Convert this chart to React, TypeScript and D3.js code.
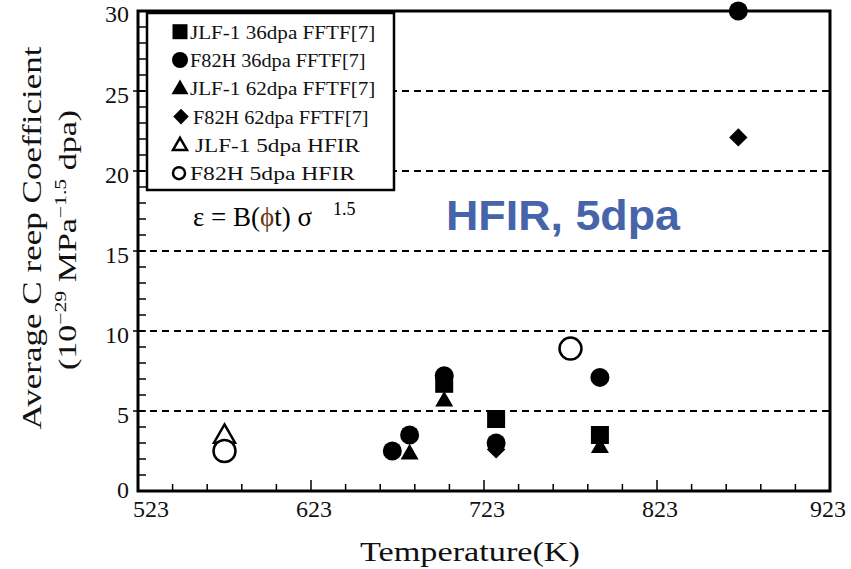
import React from "react";
import * as d3 from "d3";

// ---- data ----
const jlf36Temp = [700, 730, 790];
const jlf36Val = [6.7, 4.5, 3.5];
const f82h36Temp = [670, 680, 700, 730, 790, 870];
const f82h36Val = [2.5, 3.5, 7.2, 3.0, 7.1, 30];
const jlf62Temp = [680, 700, 790];
const jlf62Val = [2.3, 5.6, 2.7];
const f82h62Temp = [730, 870];
const f82h62Val = [2.6, 22.1];
const jlf5Temp = [573];
const jlf5Val = [3.4];
const f82h5Temp = [573, 773];
const f82h5Val = [2.5, 8.9];

const xTicks = [523, 623, 723, 823, 923];
const yTicks = [0, 5, 10, 15, 20, 25, 30];
const gridVals = [5, 10, 15, 20, 25];
const legendLabels = [
  "JLF-1 36dpa FFTF[7]",
  "F82H 36dpa FFTF[7]",
  "JLF-1 62dpa FFTF[7]",
  "F82H 62dpa FFTF[7]",
  "JLF-1 5dpa HFIR",
  "F82H  5dpa HFIR",
];

const W = 851;
const H = 569;
const L = 138, R = 830, T = 11, B = 491;
const serif = "'Liberation Serif', 'Times New Roman', serif";

export default function App() {
  const x = d3.scaleLinear().domain([523, 923]).range([L, R]);
  const y = d3.scaleLinear().domain([0, 30]).range([B, T]);

  const sq = (s: number) => d3.symbol().type(d3.symbolSquare).size(s * s)()!;
  const ci = (r: number) => d3.symbol().type(d3.symbolCircle).size(Math.PI * r * r)()!;
  const tri = (s: number) => d3.symbol().type(d3.symbolTriangle).size((s * s * Math.sqrt(3)) / 4)()!;

  const minorX = d3.range(543, 923, 20).filter((v) => (v - 523) % 100 !== 0);
  const minorY = d3.range(1, 30, 1);

  const pts = (t: number[], v: number[]) => t.map((d, i) => [x(d), y(v[i])]);

  const legY = (i: number) => 31.7 + i * 28.3;
  const legendWidth = (i: number) =>
    i < 4 ? legendLabels[i].length * 9.75 : legendLabels[i].length * 11;
  const legendTextX = [190, 190, 190, 193, 195, 190];

  return (
    <svg
      width={W}
      height={H}
      style={{ position: "absolute", left: 0, top: 0, background: "#fff" }}
    >
      <rect x={0} y={0} width={W} height={H} fill="#fff" />
      {/* grid lines */}
      {gridVals.map((v) => (
        <line
          key={"g" + v}
          x1={L}
          x2={R}
          y1={y(v)}
          y2={y(v)}
          stroke="#000"
          strokeWidth={2}
          strokeDasharray="7,5"
        />
      ))}
      {/* frame */}
      <rect x={L} y={T} width={R - L} height={B - T} fill="none" stroke="#000" strokeWidth={3} />
      {/* x ticks */}
      {minorX.map((v) => (
        <line key={"mx" + v} x1={x(v)} x2={x(v)} y1={B} y2={B - 7} stroke="#000" strokeWidth={1.5} />
      ))}
      {xTicks.slice(1, -1).map((v) => (
        <line key={"Mx" + v} x1={x(v)} x2={x(v)} y1={B} y2={B - 11} stroke="#000" strokeWidth={1.5} />
      ))}
      {/* y ticks */}
      {minorY.map((v) => (
        <line
          key={"my" + v}
          x1={v % 5 === 0 ? L - 5 : L}
          x2={L + 8}
          y1={y(v)}
          y2={y(v)}
          stroke="#000"
          strokeWidth={1.5}
        />
      ))}
      {/* x tick labels */}
      {xTicks.map((v, i) => (
        <text
          key={"xl" + v}
          x={x(v) + (i === 0 ? 13 : i === xTicks.length - 1 ? -2 : 3)}
          y={517}
          fontFamily={serif}
          fontSize={24}
          textAnchor="middle"
          textLength={36}
          lengthAdjust="spacingAndGlyphs"
          fill="#111"
        >
          {v}
        </text>
      ))}
      {/* y tick labels */}
      {yTicks.map((v) => (
        <text
          key={"yl" + v}
          x={129}
          y={y(v) + (v === 0 ? 7 : v === 30 ? 11 : 12)}
          fontFamily={serif}
          fontSize={24}
          textAnchor="end"
          fill="#111"
        >
          {v}
        </text>
      ))}
      {/* axis titles */}
      <text
        x={470}
        y={561}
        fontFamily={serif}
        fontSize={28}
        textAnchor="middle"
        textLength={220}
        lengthAdjust="spacingAndGlyphs"
        fill="#111"
      >
        Temperature(K)
      </text>
      <text
        transform="translate(41,238) rotate(-90)"
        fontFamily={serif}
        fontSize={28}
        textAnchor="middle"
        textLength={383}
        lengthAdjust="spacingAndGlyphs"
        fill="#111"
      >
        Average C reep Coefficient
      </text>
      <text
        transform="translate(76,240) rotate(-90)"
        fontFamily={serif}
        fontSize={25}
        textAnchor="middle"
        textLength={260}
        lengthAdjust="spacingAndGlyphs"
        fill="#111"
      >
        <tspan>(10</tspan>
        <tspan dy={-10} fontSize={16}>−29</tspan>
        <tspan dy={10}> MPa</tspan>
        <tspan dy={-10} fontSize={16}>−1.5</tspan>
        <tspan dy={10}> dpa)</tspan>
      </text>

      {/* legend box */}
      <rect x={147} y={13} width={247} height={177} fill="#fff" stroke="#000" strokeWidth={2.5} />
      {legendLabels.map((lab, i) => (
        <text
          key={"lt" + i}
          x={legendTextX[i]}
          y={legY(i) + 7}
          fontFamily={serif}
          fontSize={19}
          textLength={legendWidth(i)}
          lengthAdjust="spacingAndGlyphs"
          fill="#111"
        >
          {lab}
        </text>
      ))}
      <path d={sq(15)} transform={`translate(180,${legY(0)})`} fill="#000" />
      <path d={ci(8)} transform={`translate(180,${legY(1)})`} fill="#000" />
      <path d={tri(17)} transform={`translate(180,${legY(2) + 1})`} fill="#000" />
      <path d={sq(11)} transform={`translate(181,${legY(3)}) rotate(45)`} fill="#000" />
      <path d={tri(14)} transform={`translate(180,${legY(4) + 1})`} fill="#fff" stroke="#000" strokeWidth={2.5} />
      <circle cx={179} cy={legY(5)} r={6} fill="#fff" stroke="#000" strokeWidth={2.5} />

      {/* formula */}
      <text x={193} y={226} fontFamily={serif} fontSize={27} fill="#000">
        ε = B(<tspan fill="#6b3510">ϕ</tspan>t) σ
      </text>
      <text x={333} y={215} fontFamily={serif} fontSize={18} fill="#000">
        1.5
      </text>
      <text
        x={446}
        y={230}
        fontFamily="'Liberation Sans', Arial, sans-serif"
        fontWeight="bold"
        fontSize={42}
        textLength={234}
        lengthAdjust="spacingAndGlyphs"
        fill="#4564AA"
      >
        HFIR, 5dpa
      </text>

      {/* data */}
      {pts(jlf62Temp, jlf62Val).map(([px, py], i) => (
        <path key={"t" + i} d={tri(18)} transform={`translate(${px},${py})`} fill="#000" />
      ))}
      {pts(f82h62Temp, f82h62Val).map(([px, py], i) => (
        <path key={"d" + i} d={sq(13)} transform={`translate(${px},${py}) rotate(45)`} fill="#000" />
      ))}
      {pts(f82h36Temp, f82h36Val).map(([px, py], i) => (
        <path key={"c" + i} d={ci(9.5)} transform={`translate(${px},${py})`} fill="#000" />
      ))}
      {pts(jlf36Temp, jlf36Val).map(([px, py], i) => (
        <path key={"s" + i} d={sq(18)} transform={`translate(${px},${py})`} fill="#000" />
      ))}
      {pts(jlf5Temp, jlf5Val).map(([px, py], i) => (
        <path
          key={"ot" + i}
          d={tri(21)}
          transform={`translate(${px},${py})`}
          fill="#fff"
          stroke="#000"
          strokeWidth={2.5}
        />
      ))}
      {pts(f82h5Temp, f82h5Val).map(([px, py], i) => (
        <circle key={"oc" + i} cx={px} cy={py} r={11} fill="#fff" stroke="#000" strokeWidth={2.5} />
      ))}
    </svg>
  );
}
